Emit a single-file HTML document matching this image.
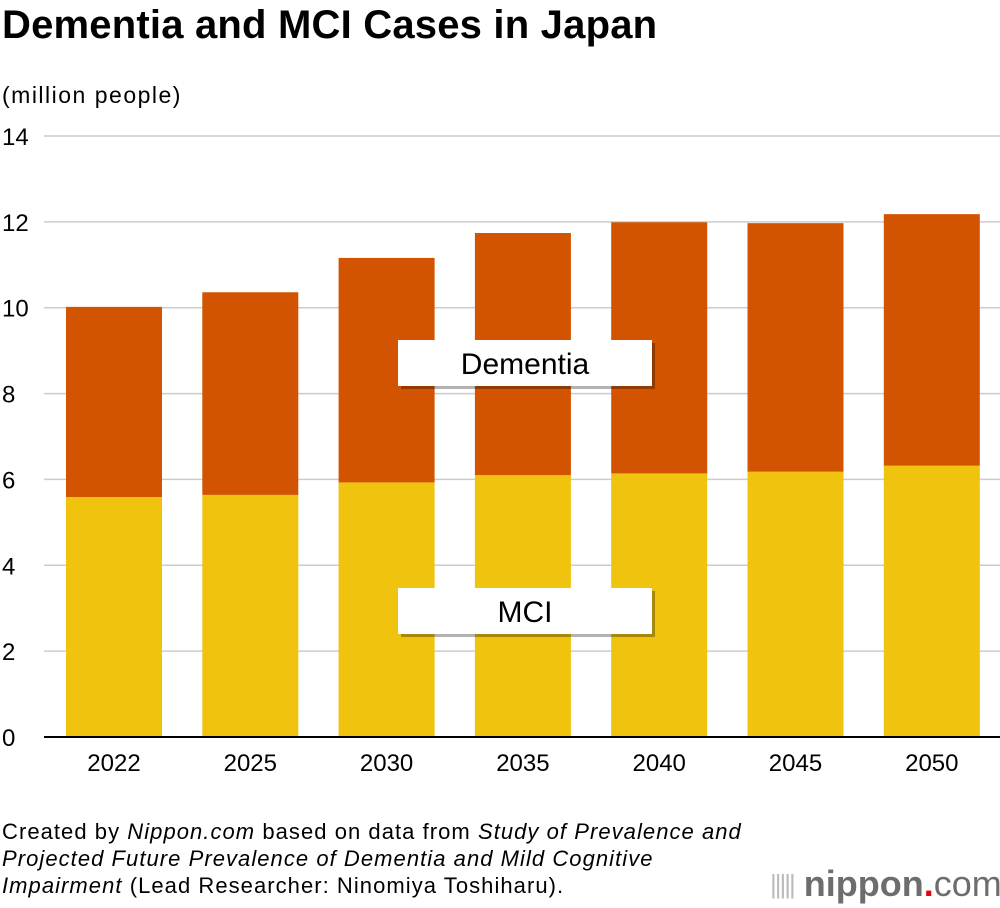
<!DOCTYPE html>
<html><head><meta charset="utf-8"><style>
body{margin:0;width:1000px;height:908px;background:#fff;font-family:"Liberation Sans",sans-serif;overflow:hidden;position:relative}
.t{position:absolute;left:2px;top:3px;font-size:40px;font-weight:bold;color:#000;letter-spacing:0.2px;white-space:nowrap}
.u{position:absolute;left:2px;top:82px;font-size:23px;color:#000;letter-spacing:1.5px}
.note{position:absolute;left:2px;top:818px;font-size:22px;line-height:27px;color:#000;white-space:nowrap;letter-spacing:1.05px}
.logo{position:absolute;left:770px;top:863px;font-size:36px;color:#6d6d6d;font-weight:bold;white-space:nowrap}
</style></head><body>
<div class="t">Dementia and MCI Cases in Japan</div>
<div class="u">(million people)</div>
<svg id="c" width="1000" height="800" style="position:absolute;left:0;top:0"></svg>
<div class="note">Created by <i>Nippon.com</i> based on data from <i>Study of Prevalence and</i><br><i>Projected Future Prevalence of Dementia and Mild Cognitive</i><br><i>Impairment</i> (Lead Researcher: Ninomiya Toshiharu).</div>
<div class="logo"><span style="font-weight:normal;font-size:26px;letter-spacing:-2px;color:#bbb;vertical-align:3px">|||||</span> nippon<span style="color:#e60012">.</span><span style="font-weight:normal">com</span></div>
<script>
const categories=["2022","2025","2030","2035","2040","2045","2050"];
const mci=[5.59,5.64,5.93,6.10,6.14,6.18,6.32];
const dementia=[4.43,4.72,5.23,5.64,5.85,5.79,5.86];
const yTicks=[0,2,4,6,8,10,12,14];
const NS="http://www.w3.org/2000/svg";
const svg=document.getElementById('c');
const y=v=>737-v*601/14;
const x=i=>66+i*136.3;
function mk(t,a){const e=document.createElementNS(NS,t);for(const k in a)e.setAttribute(k,a[k]);svg.appendChild(e);return e;}
yTicks.forEach(v=>{
 const l=mk('line',{x1:44,x2:1000,y1:y(v),y2:y(v),stroke:v==0?'#000':'#ccc','stroke-width':v==0?2:1.5});
 
 
 const t=mk('text',{x:2,y:y(v)+9,'font-size':24,fill:'#000'});t.textContent=v;
 
 
});
categories.forEach((c,i)=>{
 const b1=mk('rect',{x:x(i),y:y(mci[i]),width:96,height:y(0)-y(mci[i]),fill:'#f0c30f'});
 
 
 const tot=mci[i]+dementia[i];
 const b2=mk('rect',{x:x(i),y:y(tot),width:96,height:y(mci[i])-y(tot),fill:'#d35400'});
 
 
 const t=mk('text',{x:x(i)+48,y:771,'font-size':24,'text-anchor':'middle',fill:'#000'});t.textContent=c;
 
 
});
mk('line',{x1:44,x2:1000,y1:y(0),y2:y(0),stroke:'#000','stroke-width':2});
function label(txt,x0,y0,w,h,n){
 mk('rect',{x:x0+3,y:y0+3,width:w,height:h,fill:'rgba(0,0,0,0.3)'});
 const r=mk('rect',{x:x0,y:y0,width:w,height:h,fill:'#fff'});
 
 
 const t=mk('text',{x:x0+w/2,y:y0+h/2+11,'font-size':30,'text-anchor':'middle',fill:'#000'});t.textContent=txt;
}
label('Dementia',398,340,254,46,'dementia-label');
label('MCI',398,588,254,46,'mci-label');
</script>
</body></html>
